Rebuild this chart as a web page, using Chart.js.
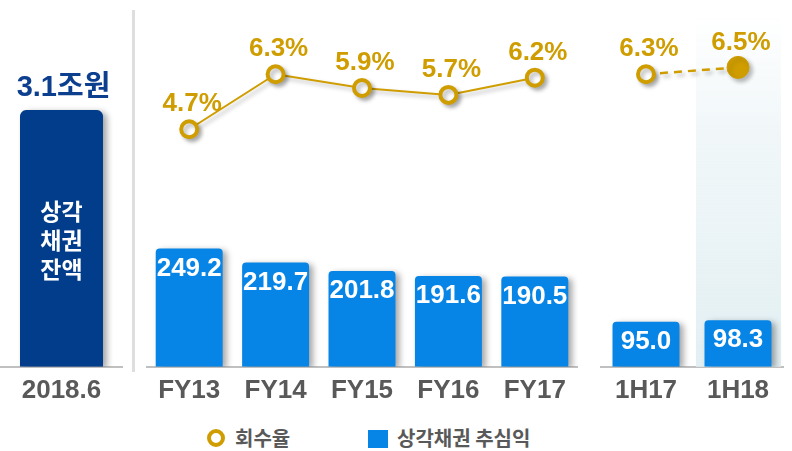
<!DOCTYPE html>
<html><head><meta charset="utf-8">
<script src="https://cdn.jsdelivr.net/npm/chart.js@4/dist/chart.umd.min.js"></script>
<style>
html,body{margin:0;padding:0;background:#fff;}
#wrap{position:relative;width:792px;height:451px;overflow:hidden;font-family:"Liberation Sans","Noto Sans CJK KR",sans-serif;}
canvas{position:absolute;top:0;}
#sep{position:absolute;left:132px;top:10px;width:3px;height:362px;background:#dedede;}
.lg{position:absolute;top:427px;height:22px;line-height:22px;font-weight:bold;font-size:20px;color:#595959;font-family:"Noto Sans CJK KR",sans-serif;white-space:nowrap;}
.ring{position:absolute;top:429px;left:207px;width:18px;height:18px;box-sizing:border-box;border:4px solid #cf9d00;border-radius:50%;}
.sq{position:absolute;top:430px;left:368px;width:20px;height:18px;background:#0785e6;}
</style></head>
<body><div id="wrap">
<div id="sep"></div>
<canvas id="cL" width="123" height="414" style="left:0"></canvas>
<canvas id="cM" width="432" height="414" style="left:146px"></canvas>
<canvas id="cR" width="184" height="414" style="left:600px"></canvas>
<div class="ring"></div><div class="lg" id="lg1" style="left:235px"></div>
<div class="sq"></div><div class="lg" id="lg2" style="left:397px"></div>
</div>
<script>
// ---- data ----
const balanceCategories = ['2018.6'];
const balanceValues = [3.1];
const balanceLabel = '3.1조원';
const balanceInnerText = ['상각', '채권', '잔액'];
const fyCategories = ['FY13', 'FY14', 'FY15', 'FY16', 'FY17'];
const fyRecovery = [249.2, 219.7, 201.8, 191.6, 190.5];
const fyRate = [4.7, 6.3, 5.9, 5.7, 6.2];
const halfCategories = ['1H17', '1H18'];
const halfRecovery = [95.0, 98.3];
const halfRate = [6.3, 6.5];
const seriesNames = ['회수율', '상각채권 추심익'];

// ---- styles ----
const GOLD = '#cf9d00', BLUE = '#0785e6', NAVY = '#023d8c', GREY = '#595959';
const NUMFONT = '"Liberation Sans", "Noto Sans CJK KR", sans-serif';

document.getElementById('lg1').textContent = seriesNames[0];
document.getElementById('lg2').textContent = seriesNames[1];

const shadowPlugin = {
  id: 'shadow',
  beforeDatasetDraw(chart, args) {
    const ctx = chart.ctx;
    ctx.save();
    const isLine = args.meta.type === 'line';
    ctx.shadowColor = isLine ? 'rgba(0,0,0,0.28)' : 'rgba(0,0,0,0.35)';
    ctx.shadowBlur = isLine ? 4 : 6;
    ctx.shadowOffsetX = isLine ? 3 : 4;
    ctx.shadowOffsetY = isLine ? 3 : 2;
  },
  afterDatasetDraw(chart) { chart.ctx.restore(); }
};

const labelPlugin = {
  id: 'vlabels',
  afterDatasetsDraw(chart) {
    const ctx = chart.ctx;
    chart.data.datasets.forEach((ds, i) => {
      const meta = chart.getDatasetMeta(i);
      meta.data.forEach((el, j) => {
        const v = ds.data[j];
        ctx.save();
        ctx.textAlign = 'center';
        ctx.textBaseline = 'middle';
        if (ds.type === 'line') {
          ctx.fillStyle = GOLD;
          ctx.font = 'bold 26px ' + NUMFONT;
          ctx.fillText(v.toFixed(1) + '%', el.x + 3, el.y - 25);
        } else if (ds.kind === 'balance') {
          ctx.fillStyle = '#0d3f8f';
          ctx.font = 'bold 29px ' + NUMFONT;
          ctx.fillText(balanceLabel, el.x + 2, el.y - 22);
          ctx.fillStyle = '#ffffff';
          ctx.font = 'bold 23px "Noto Sans CJK KR", sans-serif';
          balanceInnerText.forEach((t, k) => ctx.fillText(t, el.x, 211 + k * 29));
        } else {
          ctx.fillStyle = '#ffffff';
          ctx.font = 'bold 26px ' + NUMFONT;
          ctx.fillText(v.toFixed(1), el.x, el.y + 20);
        }
        ctx.restore();
      });
    });
  }
};

const highlightPlugin = {
  id: 'highlight',
  beforeDatasetsDraw(chart) {
    const meta = chart.getDatasetMeta(1);
    const el = meta.data[1];
    const ctx = chart.ctx, a = chart.chartArea;
    const g = ctx.createLinearGradient(0, 15, 0, a.bottom);
    g.addColorStop(0, 'rgba(232,242,245,0)');
    g.addColorStop(0.35, 'rgba(234,243,246,0.7)');
    g.addColorStop(1, 'rgba(226,239,243,1)');
    ctx.save();
    ctx.fillStyle = g;
    ctx.fillRect(el.x - 42, 15, 85, a.bottom - 15);
    ctx.restore();
  }
};

function xScale() {
  return {
    grid: { display: false, drawTicks: false },
    border: { display: true, color: '#c0c0c0', width: 2 },
    ticks: { color: GREY, font: { family: NUMFONT, weight: 'bold', size: 26 }, padding: 8 }
  };
}
const baseOpts = {
  responsive: false, animation: false, devicePixelRatio: 1,
  layout: { padding: 0, autoPadding: false },
  plugins: { legend: { display: false }, tooltip: { enabled: false } }
};

// left chart
new Chart(document.getElementById('cL'), {
  type: 'bar',
  data: { labels: balanceCategories, datasets: [{
    kind: 'balance', data: balanceValues, backgroundColor: NAVY,
    borderRadius: 6, borderSkipped: 'start', barPercentage: 0.675, categoryPercentage: 1
  }]},
  options: Object.assign({}, baseOpts, {
    scales: { x: xScale(), y: { display: false, min: 0, max: 4.43 } }
  }),
  plugins: [shadowPlugin, labelPlugin]
});

function lineRateDs(data, dashed) {
  const n = data.length;
  return {
    type: 'line', label: seriesNames[0], data: data, yAxisID: 'y2',
    borderColor: GOLD, borderWidth: dashed ? 2.5 : 2, borderDash: dashed ? [8, 6] : [],
    pointRadius: data.map((v, i) => dashed && i === n - 1 ? 11 : 8),
    pointBorderWidth: data.map((v, i) => dashed && i === n - 1 ? 1 : 4),
    pointBackgroundColor: data.map((v, i) => dashed && i === n - 1 ? GOLD : '#ffffff'),
    pointBorderColor: GOLD, clip: false, order: 0
  };
}
function barDs(data, pct) {
  return {
    type: 'bar', label: seriesNames[1], data: data, backgroundColor: BLUE,
    borderRadius: 4, borderSkipped: 'start', barPercentage: pct, categoryPercentage: 1, order: 1
  };
}
const rateScale = { display: false, min: -2.21, max: 8.46 };
const amtScale = { display: false, min: 0, max: 773 };

new Chart(document.getElementById('cM'), {
  type: 'bar',
  data: { labels: fyCategories, datasets: [lineRateDs(fyRate, false), barDs(fyRecovery, 0.775)] },
  options: Object.assign({}, baseOpts, {
    scales: { x: xScale(), y: amtScale, y2: rateScale }
  }),
  plugins: [shadowPlugin, labelPlugin]
});

new Chart(document.getElementById('cR'), {
  type: 'bar',
  data: { labels: halfCategories, datasets: [lineRateDs(halfRate, true), barDs(halfRecovery, 0.728)] },
  options: Object.assign({}, baseOpts, {
    scales: { x: xScale(), y: amtScale, y2: rateScale }
  }),
  plugins: [highlightPlugin, shadowPlugin, labelPlugin]
});
</script>
</body></html>
